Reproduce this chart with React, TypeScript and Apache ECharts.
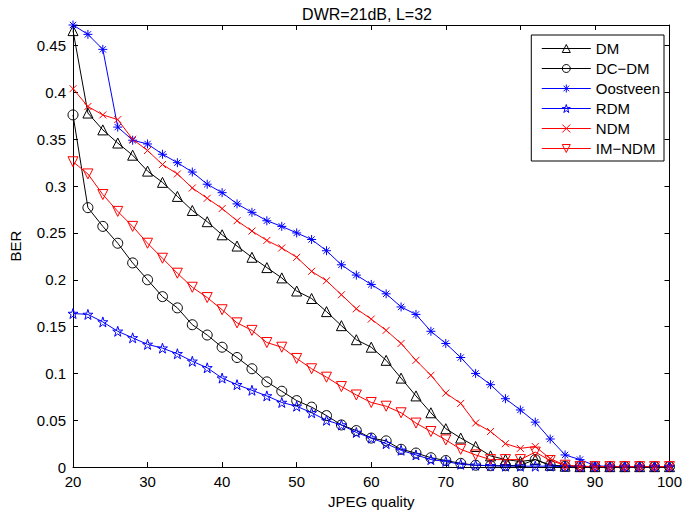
import React, { useEffect, useRef } from 'react';
import * as echarts from 'echarts';

const quality = [20, 22, 24, 26, 28, 30, 32, 34, 36, 38, 40, 42, 44, 46, 48, 50, 52, 54, 56, 58, 60, 62, 64, 66, 68, 70, 72, 74, 76, 78, 80, 82, 84, 86, 88, 90, 92, 94, 96, 98, 100];

const dm = [0.466, 0.378, 0.360, 0.346, 0.333, 0.316, 0.304, 0.289, 0.274, 0.262, 0.248, 0.236, 0.224, 0.213, 0.202, 0.188, 0.180, 0.166, 0.151, 0.136, 0.128, 0.114, 0.095, 0.076, 0.058, 0.041, 0.031, 0.022, 0.012, 0.008, 0.006, 0.008, 0.002, 0.001, 0.0005, 0.0005, 0.0005, 0.0005, 0.0005, 0.0005, 0.0005];
const dcdm = [0.376, 0.277, 0.257, 0.239, 0.218, 0.200, 0.182, 0.170, 0.152, 0.141, 0.128, 0.117, 0.105, 0.091, 0.081, 0.071, 0.064, 0.055, 0.045, 0.039, 0.031, 0.028, 0.019, 0.015, 0.010, 0.007, 0.004, 0.002, 0.0015, 0.0015, 0.002, 0.008, 0.002, 0.001, 0.0005, 0.0005, 0.0005, 0.0005, 0.0005, 0.0005, 0.0005];
const oostveen = [0.472, 0.462, 0.446, 0.363, 0.349, 0.345, 0.334, 0.325, 0.315, 0.302, 0.293, 0.281, 0.272, 0.263, 0.257, 0.250, 0.243, 0.231, 0.216, 0.205, 0.195, 0.185, 0.171, 0.163, 0.145, 0.132, 0.117, 0.100, 0.088, 0.073, 0.061, 0.048, 0.030, 0.013, 0.008, 0.0016, 0.0005, 0.0005, 0.0005, 0.0005, 0.0005];
const rdm = [0.164, 0.163, 0.155, 0.145, 0.138, 0.131, 0.127, 0.121, 0.113, 0.106, 0.095, 0.088, 0.082, 0.076, 0.069, 0.065, 0.058, 0.050, 0.045, 0.037, 0.031, 0.025, 0.018, 0.013, 0.008, 0.006, 0.003, 0.002, 0.0015, 0.001, 0.001, 0.001, 0.001, 0.0005, 0.0005, 0.0005, 0.0005, 0.0005, 0.0005, 0.0005, 0.0005];
const ndm = [0.404, 0.385, 0.376, 0.371, 0.350, 0.338, 0.323, 0.313, 0.298, 0.287, 0.276, 0.263, 0.252, 0.242, 0.234, 0.224, 0.209, 0.199, 0.184, 0.169, 0.158, 0.146, 0.132, 0.114, 0.098, 0.079, 0.068, 0.047, 0.038, 0.025, 0.020, 0.022, 0.009, 0.002, 0.001, 0.0005, 0.0005, 0.0005, 0.0005, 0.0005, 0.0005];
const imndm = [0.326, 0.313, 0.291, 0.273, 0.257, 0.239, 0.223, 0.207, 0.192, 0.181, 0.168, 0.154, 0.146, 0.133, 0.128, 0.116, 0.105, 0.096, 0.086, 0.077, 0.069, 0.065, 0.058, 0.047, 0.038, 0.029, 0.019, 0.013, 0.008, 0.008, 0.008, 0.016, 0.007, 0.002, 0.0005, 0.0005, 0.0005, 0.0005, 0.0005, 0.0005, 0.0005];

const seriesNames = ['DM', 'DC\u2212DM', 'Oostveen', 'RDM', 'NDM', 'IM\u2212NDM'];
const xTicks = { min: 20, max: 100, interval: 10 };
const yTicks = { min: 0, max: 0.472, interval: 0.05 };

const FONT = '"Liberation Sans", Arial, Helvetica, sans-serif';

const ASTERISK = 'path://M5,0L5,10M0,5L10,5M1.5,1.5L8.5,8.5M8.5,1.5L1.5,8.5';
const CROSS = 'path://M0,0L10,10M10,0L0,10';
const PENTAGRAM = 'path://M5,0L6.123,3.455L9.755,3.455L6.816,5.59L7.939,9.045L5,6.91L2.061,9.045L3.184,5.59L0.245,3.455L3.877,3.455Z';

export default function App() {
  const ref = useRef<HTMLDivElement>(null);
  useEffect(() => {
    const chart = echarts.init(ref.current!, null, { renderer: 'svg' });
    const mk = (name: string, values: number[], color: string, symbol: string, size: number, rotate = 0) => ({
      name,
      type: 'line',
      data: quality.map((q, i) => [q, values[i]]),
      symbol,
      symbolSize: size,
      symbolRotate: rotate,
      showAllSymbol: true,
      clip: false,
      lineStyle: { color, width: 1 },
      itemStyle: { color: 'rgba(255,255,255,0)', borderColor: color, borderWidth: 1 },
      emphasis: { disabled: true },
    });
    const axisCommon = {
      axisLine: { show: true, onZero: false, lineStyle: { color: '#000', width: 1 } },
      axisTick: { show: true, inside: true, length: 5, lineStyle: { color: '#000', width: 1 } },
      splitLine: { show: false },
    };
    const yFmt = (v: number) => {
      const k = v / yTicks.interval;
      return Math.abs(k - Math.round(k)) < 1e-6 ? String(+v.toFixed(2)) : '';
    };
    chart.setOption({
      animation: false,
      backgroundColor: '#fff',
      grid: { left: 62, right: 13, top: 25, bottom: 43.5, containLabel: false },
      graphic: [
        {
          type: 'text',
          x: 367,
          y: 14,
          style: { text: 'DWR=21dB, L=32', fontSize: 16, fontFamily: FONT, fill: '#000', align: 'center', verticalAlign: 'middle' },
        },
      ],
      legend: {
        orient: 'vertical',
        right: 21,
        top: 35,
        padding: [6, 4, 5, 10],
        itemWidth: 49,
        itemHeight: 10,
        itemGap: 5,
        backgroundColor: '#fff',
        borderColor: '#000',
        borderWidth: 1,
        borderRadius: 0,
        selectedMode: false,
        lineStyle: { width: 1 },
        itemStyle: { color: 'rgba(255,255,255,0)', borderWidth: 1 },
        textStyle: { fontSize: 15, color: '#000', fontFamily: FONT },
        data: seriesNames,
      },
      xAxis: [
        {
          type: 'value', position: 'bottom', ...xTicks, ...axisCommon,
          axisLabel: { color: '#000', fontSize: 15, fontFamily: FONT, margin: 7 },
          name: 'JPEG quality', nameLocation: 'middle', nameGap: 21,
          nameTextStyle: { color: '#000', fontSize: 15, fontFamily: FONT },
        },
        { type: 'value', position: 'top', ...xTicks, ...axisCommon, axisLabel: { show: false } },
      ],
      yAxis: [
        {
          type: 'value', position: 'left', ...yTicks, ...axisCommon,
          axisLabel: { color: '#000', fontSize: 15, fontFamily: FONT, margin: 7, formatter: yFmt, showMaxLabel: false },
          name: 'BER', nameLocation: 'middle', nameGap: 50,
          nameTextStyle: { color: '#000', fontSize: 15, fontFamily: FONT },
        },
        { type: 'value', position: 'right', ...yTicks, ...axisCommon, axisLabel: { show: false } },
      ],
      series: [
        mk(seriesNames[0], dm, '#000000', 'triangle', 10),
        mk(seriesNames[1], dcdm, '#000000', 'circle', 10),
        mk(seriesNames[2], oostveen, '#0000ff', ASTERISK, 9),
        mk(seriesNames[3], rdm, '#0000ff', PENTAGRAM, 10),
        mk(seriesNames[4], ndm, '#ff0000', CROSS, 7),
        mk(seriesNames[5], imndm, '#ff0000', 'triangle', 10, 180),
      ],
    });
    return () => chart.dispose();
  }, []);
  return <div ref={ref} style={{ position: 'fixed', left: 0, top: 0, width: 685, height: 514, background: '#fff' }} />;
}
